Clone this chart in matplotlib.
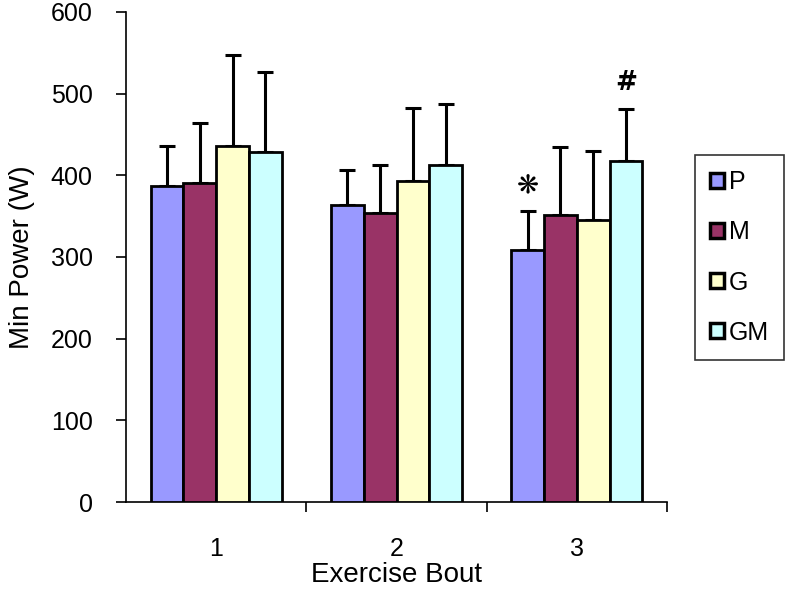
import matplotlib.pyplot as plt
import numpy as np

plt.rcParams['font.family'] = ['Liberation Sans', 'DejaVu Sans']

bouts = ["1", "2", "3"]
series = ["P", "M", "G", "GM"]
means = {
    "P": [387, 364, 308],
    "M": [391, 354, 352],
    "G": [436, 393, 345],
    "GM": [428, 413, 418],
}
errors = {
    "P": [49, 43, 48],
    "M": [73, 59, 83],
    "G": [111, 89, 85],
    "GM": [98, 74, 63],
}
colors = {"P": "#9999FF", "M": "#993366", "G": "#FFFFCC", "GM": "#CCFFFF"}
marks = {("P", 2): "\u274B", ("GM", 2): "#"}

fig = plt.figure(figsize=(7.87, 6.07), dpi=100)
ax = fig.add_axes([126 / 787, 1 - 502 / 607, 541 / 787, 490 / 607])

x = np.arange(len(bouts))
w = 0.182
for i, s in enumerate(series):
    xs = x + (i - 1.5) * w
    ax.bar(xs, means[s], width=w, color=colors[s], edgecolor="black",
           linewidth=2, label=s, zorder=3)
    ax.errorbar(xs, means[s], yerr=[np.zeros(3), errors[s]], fmt="none",
                ecolor="black", elinewidth=2.2, capsize=5.5, capthick=2.2, zorder=2)
    for j in range(len(bouts)):
        if (s, j) in marks:
            top = means[s][j] + errors[s][j]
            ax.text(xs[j], top + 16, marks[(s, j)], ha="center", va="bottom",
                    fontsize=19, fontweight="bold", family=["DejaVu Sans"])

ax.set_xlim(-0.5, 2.5)
ax.set_ylim(0, 600)
ax.set_yticks(range(0, 601, 100))
ax.set_xticks(x)
ax.set_xticklabels(bouts)
ax.set_xticks([0.5, 1.5, 2.5], minor=True)
ax.tick_params(axis="x", which="major", length=0, pad=25, labelsize=18)
ax.tick_params(axis="x", which="minor", length=7, width=1.2, direction="out")
ax.tick_params(axis="y", length=7, width=1.2, direction="out", labelsize=18, pad=17)
for side in ("top", "right"):
    ax.spines[side].set_visible(False)
for side in ("left", "bottom"):
    ax.spines[side].set_linewidth(1.2)

ax.set_xlabel("Exercise Bout", fontsize=20, labelpad=1)
ax.set_ylabel("Min Power (W)", fontsize=20, labelpad=11)

leg = fig.legend(loc="upper left", bbox_to_anchor=(695 / 787, 1 - 155 / 607), fontsize=18,
                 frameon=True, fancybox=False, edgecolor="black",
                 handlelength=0.55, handleheight=0.55, handletextpad=0.2,
                 labelspacing=1.05, borderpad=0.6, borderaxespad=0)
leg.get_frame().set_linewidth(1.2)
for h in leg.legend_handles:
    h.set_linewidth(2.5)

fig.savefig("out.png", dpi=100)
